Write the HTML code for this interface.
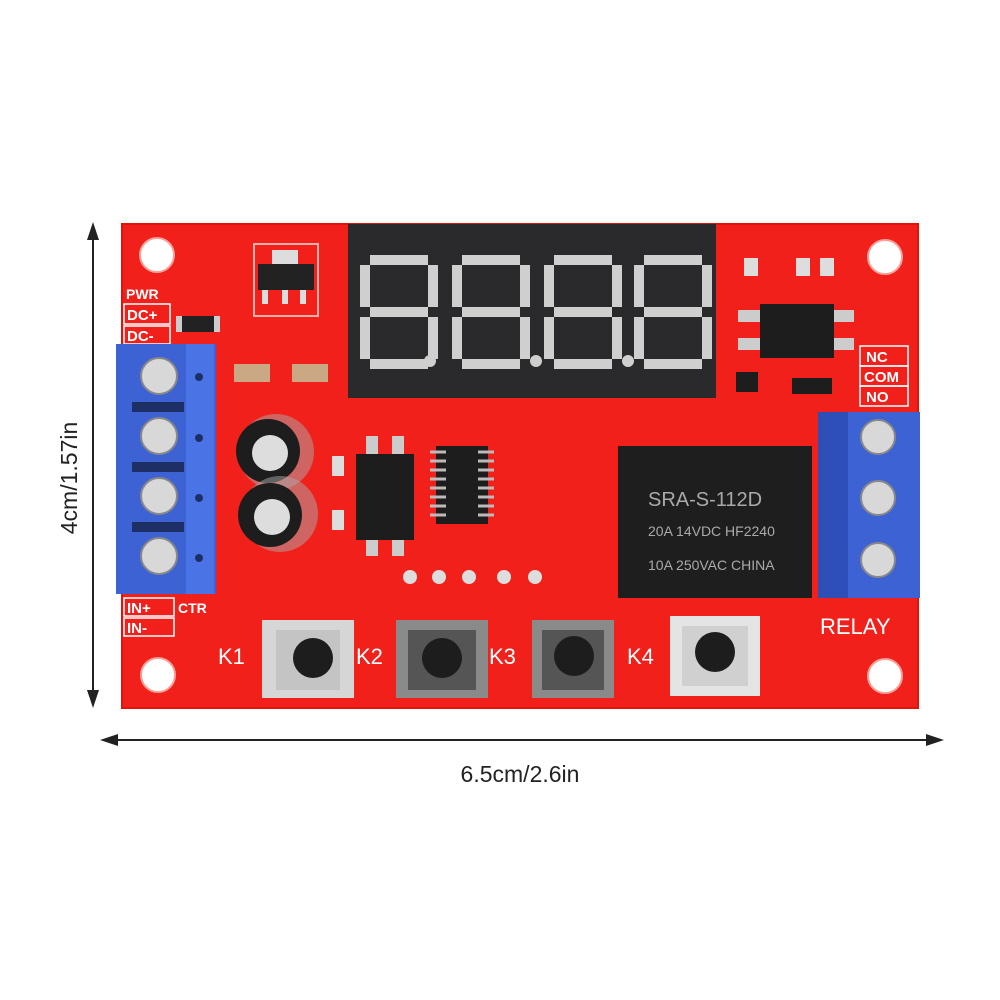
<!DOCTYPE html>
<html><head><meta charset="utf-8"><style>
html,body{margin:0;padding:0;background:#fff;}
svg{display:block;font-family:"Liberation Sans",sans-serif;}
</style></head><body>
<svg width="1000" height="1000" viewBox="0 0 1000 1000" xmlns="http://www.w3.org/2000/svg">
<defs>
<g id="seg">
</g>
</defs>
<!-- board -->
<rect x="122" y="224" width="796" height="484" fill="#f2201b"/>
<rect x="122" y="224" width="796" height="484" fill="none" stroke="#e0140f" stroke-width="2"/>
<!-- holes -->
<circle cx="157" cy="255" r="17" fill="#fff" stroke="#f7a09a" stroke-width="2"/>
<circle cx="885" cy="257" r="17" fill="#fff" stroke="#f7a09a" stroke-width="2"/>
<circle cx="158" cy="675" r="17" fill="#fff" stroke="#f7a09a" stroke-width="2"/>
<circle cx="885" cy="676" r="17" fill="#fff" stroke="#f7a09a" stroke-width="2"/>
<!-- display -->
<rect x="348" y="224" width="368" height="174" fill="#2a2a2c"/>
<g fill="#cfcfcf">
<!-- digits generated -->
<g transform="translate(360,255)">
<rect x="10" y="0" width="58" height="10"/><rect x="0" y="10" width="10" height="42"/><rect x="68" y="10" width="10" height="42"/><rect x="10" y="52" width="58" height="10"/><rect x="0" y="62" width="10" height="42"/><rect x="68" y="62" width="10" height="42"/><rect x="10" y="104" width="58" height="10"/><circle cx="70" cy="106" r="6"/></g>
<g transform="translate(452,255)">
<rect x="10" y="0" width="58" height="10"/><rect x="0" y="10" width="10" height="42"/><rect x="68" y="10" width="10" height="42"/><rect x="10" y="52" width="58" height="10"/><rect x="0" y="62" width="10" height="42"/><rect x="68" y="62" width="10" height="42"/><rect x="10" y="104" width="58" height="10"/><circle cx="84" cy="106" r="6"/></g>
<g transform="translate(544,255)">
<rect x="10" y="0" width="58" height="10"/><rect x="0" y="10" width="10" height="42"/><rect x="68" y="10" width="10" height="42"/><rect x="10" y="52" width="58" height="10"/><rect x="0" y="62" width="10" height="42"/><rect x="68" y="62" width="10" height="42"/><rect x="10" y="104" width="58" height="10"/><circle cx="84" cy="106" r="6"/></g>
<g transform="translate(634,255)">
<rect x="10" y="0" width="58" height="10"/><rect x="0" y="10" width="10" height="42"/><rect x="68" y="10" width="10" height="42"/><rect x="10" y="52" width="58" height="10"/><rect x="0" y="62" width="10" height="42"/><rect x="68" y="62" width="10" height="42"/><rect x="10" y="104" width="58" height="10"/></g>
</g>
<!-- regulator -->
<rect x="254" y="244" width="64" height="72" fill="none" stroke="#f7b0aa" stroke-width="2"/>
<rect x="272" y="250" width="26" height="14" fill="#ddd"/>
<rect x="258" y="264" width="56" height="26" fill="#222"/>
<rect x="262" y="290" width="6" height="14" fill="#ddd"/><rect x="282" y="290" width="6" height="14" fill="#ddd"/><rect x="300" y="290" width="6" height="14" fill="#ddd"/>
<!-- small SMD -->
<rect x="176" y="316" width="44" height="16" fill="#222"/><rect x="176" y="316" width="6" height="16" fill="#ccc"/><rect x="214" y="316" width="6" height="16" fill="#ccc"/>
<rect x="234" y="364" width="36" height="18" fill="#c9a883"/><rect x="292" y="364" width="36" height="18" fill="#c9a883"/>
<!-- labels left -->
<g fill="#fff" font-weight="bold">
<text x="126" y="299" font-size="14">PWR</text>
<rect x="124" y="304" width="46" height="20" fill="none" stroke="#fff" stroke-width="1.5"/>
<text x="127" y="320" font-size="15">DC+</text>
<rect x="124" y="326" width="46" height="18" fill="none" stroke="#fff" stroke-width="1.5"/>
<text x="127" y="341" font-size="15">DC-</text>
<rect x="124" y="598" width="50" height="18" fill="none" stroke="#fff" stroke-width="1.5"/>
<text x="127" y="613" font-size="15">IN+</text>
<text x="178" y="613" font-size="14">CTR</text>
<rect x="124" y="618" width="50" height="18" fill="none" stroke="#fff" stroke-width="1.5"/>
<text x="127" y="633" font-size="15">IN-</text>
</g>
<!-- left terminal -->
<rect x="116" y="344" width="100" height="250" fill="#3c62d4"/>
<rect x="186" y="344" width="28" height="250" fill="#4a74e6"/>
<g fill="#1e2f66"><rect x="132" y="402" width="52" height="10"/><rect x="132" y="462" width="52" height="10"/><rect x="132" y="522" width="52" height="10"/></g>
<g fill="#1e2f66"><circle cx="199" cy="377" r="4"/><circle cx="199" cy="438" r="4"/><circle cx="199" cy="498" r="4"/><circle cx="199" cy="558" r="4"/></g>
<g fill="#d8d8d8" stroke="#888" stroke-width="2">
<circle cx="159" cy="376" r="18"/><circle cx="159" cy="436" r="18"/><circle cx="159" cy="496" r="18"/><circle cx="159" cy="556" r="18"/></g>
<!-- caps -->
<circle cx="276" cy="452" r="38" fill="#aaa" opacity="0.5"/>
<circle cx="268" cy="451" r="32" fill="#1d1d1d"/><circle cx="270" cy="453" r="18" fill="#ddd"/>
<circle cx="280" cy="514" r="38" fill="#aaa" opacity="0.5"/>
<circle cx="270" cy="515" r="32" fill="#1d1d1d"/><circle cx="272" cy="517" r="18" fill="#ddd"/>
<!-- optocoupler -->
<rect x="356" y="454" width="58" height="86" fill="#1d1d1d"/>
<g fill="#ccc"><rect x="366" y="436" width="12" height="18"/><rect x="392" y="436" width="12" height="18"/><rect x="366" y="540" width="12" height="16"/><rect x="392" y="540" width="12" height="16"/></g>
<rect x="332" y="456" width="12" height="20" fill="#ddd"/><rect x="332" y="510" width="12" height="20" fill="#ddd"/>
<!-- IC -->
<rect x="436" y="446" width="52" height="78" fill="#1d1d1d"/>
<g stroke="#bbb" stroke-width="3">
<line x1="430" y1="452" x2="494" y2="452"/><line x1="430" y1="461" x2="494" y2="461"/><line x1="430" y1="470" x2="494" y2="470"/><line x1="430" y1="479" x2="494" y2="479"/><line x1="430" y1="488" x2="494" y2="488"/><line x1="430" y1="497" x2="494" y2="497"/><line x1="430" y1="506" x2="494" y2="506"/><line x1="430" y1="515" x2="494" y2="515"/></g>
<rect x="446" y="446" width="32" height="78" fill="#1d1d1d"/>
<!-- pads -->
<g fill="#ddd"><circle cx="410" cy="577" r="7"/><circle cx="439" cy="577" r="7"/><circle cx="469" cy="577" r="7"/><circle cx="504" cy="577" r="7"/><circle cx="535" cy="577" r="7"/></g>
<!-- right top parts -->
<rect x="760" y="304" width="74" height="54" fill="#1d1d1d"/>
<g fill="#ccc"><rect x="738" y="310" width="22" height="12"/><rect x="738" y="338" width="22" height="12"/><rect x="834" y="310" width="20" height="12"/><rect x="834" y="338" width="20" height="12"/></g>
<rect x="744" y="258" width="14" height="18" fill="#ddd"/><rect x="796" y="258" width="14" height="18" fill="#ddd"/><rect x="820" y="258" width="14" height="18" fill="#ddd"/>
<rect x="736" y="372" width="22" height="20" fill="#1d1d1d"/>
<rect x="792" y="378" width="40" height="16" fill="#1d1d1d"/>
<g fill="#fff" font-size="15" font-weight="bold">
<rect x="860" y="346" width="48" height="20" fill="none" stroke="#fff" stroke-width="1.5"/><text x="866" y="362">NC</text>
<rect x="860" y="366" width="48" height="20" fill="none" stroke="#fff" stroke-width="1.5"/><text x="864" y="382">COM</text>
<rect x="860" y="386" width="48" height="20" fill="none" stroke="#fff" stroke-width="1.5"/><text x="866" y="402">NO</text>
</g>
<!-- relay -->
<rect x="618" y="446" width="194" height="152" fill="#1e1e1e"/>
<g fill="#aaa" font-size="16">
<text x="648" y="506" font-size="20">SRA-S-112D</text>
<text x="648" y="536" font-size="14">20A 14VDC  HF2240</text>
<text x="648" y="570" font-size="14">10A 250VAC   CHINA</text>
</g>
<!-- right terminal -->
<rect x="818" y="412" width="102" height="186" fill="#3c62d4"/>
<rect x="818" y="412" width="30" height="186" fill="#2f4fb8"/>
<g fill="#d8d8d8" stroke="#888" stroke-width="2"><circle cx="878" cy="437" r="17"/><circle cx="878" cy="498" r="17"/><circle cx="878" cy="560" r="17"/></g>
<text x="820" y="634" fill="#fff" font-size="22">RELAY</text>
<!-- buttons -->
<g font-size="22" fill="#fff">
<text x="218" y="664">K1</text><text x="356" y="664">K2</text><text x="489" y="664">K3</text><text x="627" y="664">K4</text>
</g>
<g>
<rect x="262" y="620" width="92" height="78" fill="#d6d6d6"/><rect x="276" y="630" width="64" height="60" fill="#c4c4c4"/><circle cx="313" cy="658" r="20" fill="#1d1d1d"/>
<rect x="396" y="620" width="92" height="78" fill="#8a8a8a"/><rect x="408" y="630" width="68" height="60" fill="#555"/><circle cx="442" cy="658" r="20" fill="#1d1d1d"/>
<rect x="532" y="620" width="82" height="78" fill="#8a8a8a"/><rect x="542" y="630" width="62" height="60" fill="#555"/><circle cx="574" cy="656" r="20" fill="#1d1d1d"/>
<rect x="670" y="616" width="90" height="80" fill="#e4e4e4"/><rect x="682" y="626" width="66" height="60" fill="#d0d0d0"/><circle cx="715" cy="652" r="20" fill="#1d1d1d"/>
</g>
<!-- dimension lines -->
<g stroke="#222" stroke-width="2" fill="#222">
<line x1="93" y1="228" x2="93" y2="704"/>
<path d="M93 222 L87 240 L99 240 Z" stroke="none"/>
<path d="M93 708 L87 690 L99 690 Z" stroke="none"/>
<line x1="104" y1="740" x2="940" y2="740"/>
<path d="M100 740 L118 734 L118 746 Z" stroke="none"/>
<path d="M944 740 L926 734 L926 746 Z" stroke="none"/>
</g>
<text x="520" y="782" font-size="23" fill="#222" text-anchor="middle">6.5cm/2.6in</text>
<text transform="translate(77,478) rotate(-90)" font-size="23" fill="#222" text-anchor="middle">4cm/1.57in</text>
</svg>
</body></html>
